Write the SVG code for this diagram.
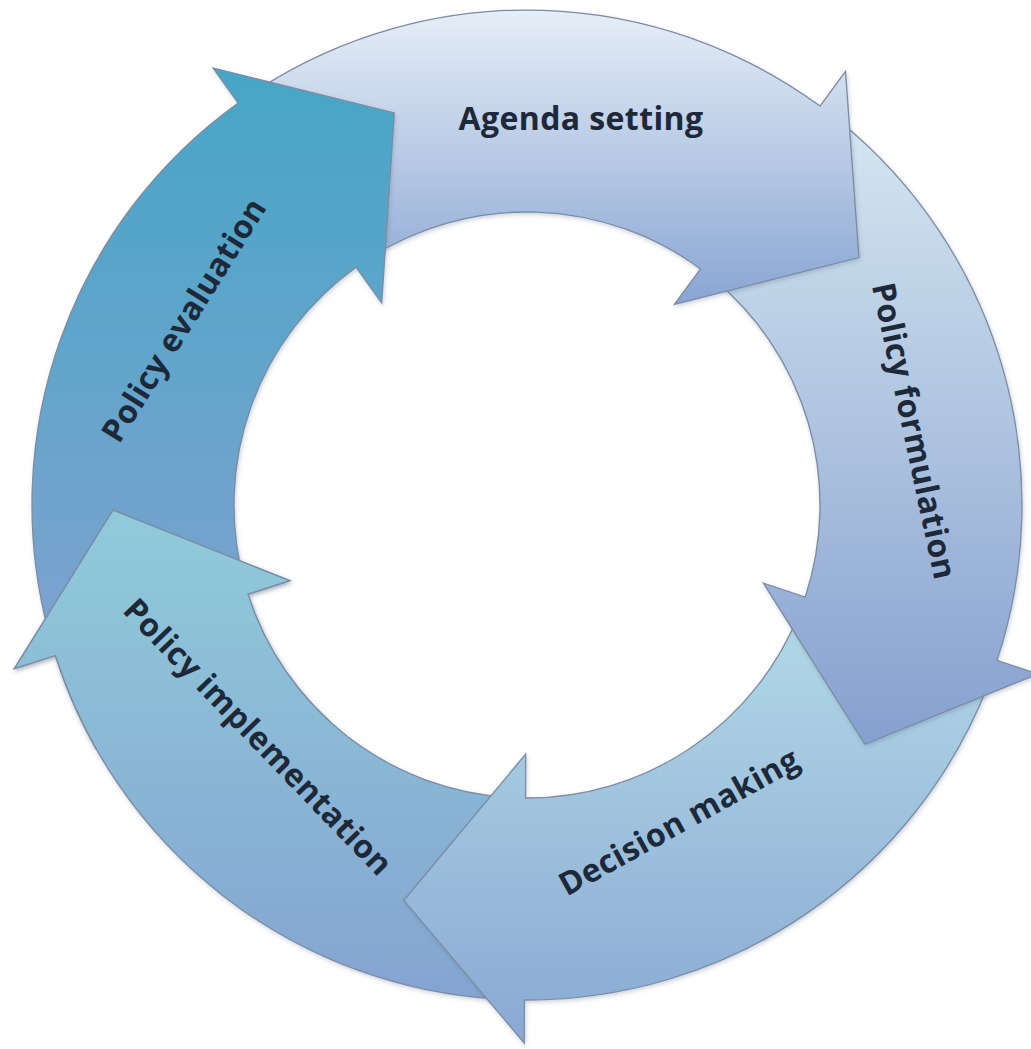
<svg xmlns="http://www.w3.org/2000/svg" xmlns:xlink="http://www.w3.org/1999/xlink" width="1031" height="1049" viewBox="0 0 1031 1049">
  <style>
    .arrow { stroke: #7b8ca3; stroke-width: 1.3; stroke-linejoin: miter; filter: url(#soft); }
    .label { font-family: "Open Sans", "Noto Sans", "Liberation Sans", sans-serif; font-weight: 700; font-size: 32px; letter-spacing: 0.4px; fill: #1d2939; text-anchor: middle; }
  </style>
  <defs>
    <filter id="soft" x="-10%" y="-10%" width="120%" height="120%">
      <feDropShadow dx="1" dy="2" stdDeviation="2" flood-color="#5a6a80" flood-opacity="0.3"/>
    </filter>
    <linearGradient id="gAgenda" x1="0" y1="0" x2="0" y2="1">
      <stop offset="0" stop-color="#e6eef7"/>
      <stop offset="1" stop-color="#89a5d3"/>
    </linearGradient>
    <linearGradient id="gFormulation" x1="0" y1="0" x2="0" y2="1">
      <stop offset="0" stop-color="#d4e6f0"/>
      <stop offset="1" stop-color="#86a0cf"/>
    </linearGradient>
    <linearGradient id="gDecision" x1="0" y1="0" x2="0" y2="1">
      <stop offset="0" stop-color="#b2d9e7"/>
      <stop offset="1" stop-color="#89a9d3"/>
    </linearGradient>
    <linearGradient id="gImplementation" x1="0" y1="0" x2="0" y2="1">
      <stop offset="0" stop-color="#90cbda"/>
      <stop offset="1" stop-color="#84a4d1"/>
    </linearGradient>
    <linearGradient id="gEvaluation" x1="0" y1="0" x2="0" y2="1">
      <stop offset="0" stop-color="#46a6c6"/>
      <stop offset="1" stop-color="#7ca3cf"/>
    </linearGradient>
    <!-- region around the implementation arrowhead, which sits above the evaluation tail -->
    <clipPath id="implHeadClip">
      <rect x="0" y="420" width="330" height="330"/>
    </clipPath>
    <path id="implShape" d="M498.5,999.2 A495,495 0 0 1 55.4,655.5 L14.4,668.6 L113.0,510.1 L289.8,580.7 L247.9,594.1 A293,293 0 0 0 510.1,797.5 Z"/>
  </defs>

  <!-- ring of five curved arrows, drawn so each head lies over the next tail -->
  <g id="connectors">
    <g id="implementation-arrow">
      <use xlink:href="#implShape" class="arrow" fill="url(#gImplementation)"/>
    </g>
    <g id="decision-arrow">
      <path class="arrow" fill="url(#gDecision)" d="M988.2,684.8 A495,495 0 0 1 524.4,1000 L524.2,1043 L403.9,900.3 L525.7,754 L525.5,798 A293,293 0 0 0 800.0,611.4 Z"/>
    </g>
    <g id="formulation-arrow">
      <path class="arrow" fill="url(#gFormulation)" d="M840.5,122.0 A495,495 0 0 1 997.0,660.4 L1037.8,673.9 L864.9,744.3 L763.4,583.2 L805.2,597.0 A293,293 0 0 0 712.6,278.3 Z"/>
    </g>
    <g id="agenda-arrow">
      <path class="arrow" fill="url(#gAgenda)" d="M259.6,88.5 A495,495 0 0 1 820.0,106.1 L845.5,71.4 L858.9,257.6 L674.4,304.3 L700.5,268.9 A293,293 0 0 0 368.7,258.4 Z"/>
    </g>
    <g id="evaluation-arrow">
      <path class="arrow" fill="url(#gEvaluation)" d="M48.2,630.6 A495,495 0 0 1 238.2,103.0 L213.1,68.1 L394.3,112.9 L381.7,302.8 L356.0,267.1 A293,293 0 0 0 243.6,579.4 Z"/>
    </g>
    <g id="implementation-head" clip-path="url(#implHeadClip)">
      <use xlink:href="#implShape" class="arrow" fill="url(#gImplementation)"/>
    </g>
  </g>

  <g id="node-agenda">
    <text class="label" x="581" y="130">Agenda setting</text>
  </g>
  <g id="node-formulation">
    <text class="label" transform="translate(914,431) rotate(78)" x="0" y="11">Policy formulation</text>
  </g>
  <g id="node-decision">
    <text class="label" transform="translate(679,822) rotate(-29)" x="0" y="11">Decision making</text>
  </g>
  <g id="node-implementation">
    <text class="label" transform="translate(258,737) rotate(46)" x="0" y="11">Policy implementation</text>
  </g>
  <g id="node-evaluation">
    <text class="label" transform="translate(184,320) rotate(-58)" x="0" y="11">Policy evaluation</text>
  </g>
</svg>
